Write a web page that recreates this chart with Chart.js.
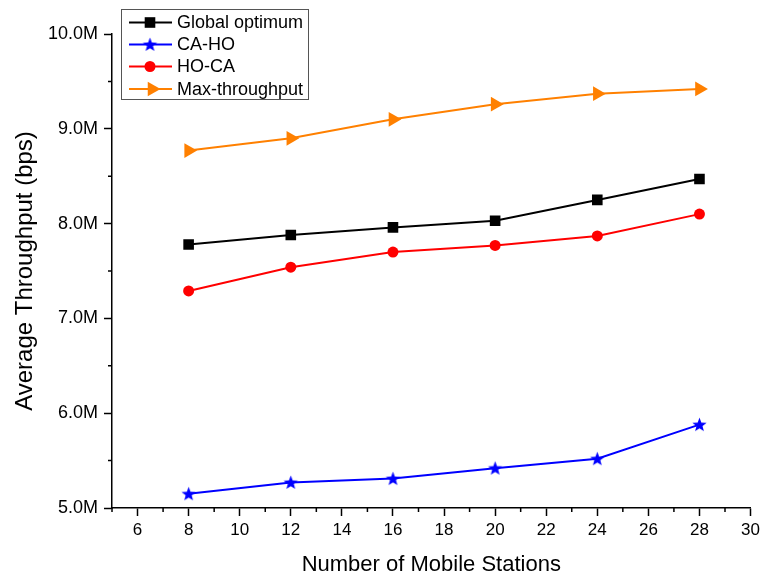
<!DOCTYPE html>
<html>
<head>
<meta charset="utf-8">
<script src="https://cdn.jsdelivr.net/npm/chart.js@4"></script>
<style>
  html, body { margin: 0; padding: 0; background: #fff; }
  #wrap { width: 764px; height: 579px; }
</style>
</head>
<body>
<div id="wrap"><canvas id="chart"></canvas></div>
<script>
// data (throughput in bps)
const stations = [8, 12, 16, 20, 24, 28];
const globalOptimum = [7.78e6, 7.88e6, 7.96e6, 8.03e6, 8.25e6, 8.47e6];
const caHo = [5.15e6, 5.27e6, 5.31e6, 5.42e6, 5.52e6, 5.88e6];
const hoCa = [7.29e6, 7.54e6, 7.70e6, 7.77e6, 7.87e6, 8.10e6];
const maxThroughput = [8.77e6, 8.90e6, 9.10e6, 9.26e6, 9.37e6, 9.42e6];

const seriesNames = ['Global optimum', 'CA-HO', 'HO-CA', 'Max-throughput'];

const xTicks = [6, 8, 10, 12, 14, 16, 18, 20, 22, 24, 26, 28, 30];
const xMinorTicks = [5, 7, 9, 11, 13, 15, 17, 19, 21, 23, 25, 27, 29];
const yTicks = [5e6, 6e6, 7e6, 8e6, 9e6, 10e6];
const yMinorTicks = [5.5e6, 6.5e6, 7.5e6, 8.5e6, 9.5e6];

const FONT = 'Liberation Sans, Arial, sans-serif';

// filled five point star, Chart.js only has the asterisk kind
function makeStar(color, r) {
    const c = document.createElement('canvas');
    const s = Math.ceil(r * 2 + 2);
    c.width = s; c.height = s;
    const g = c.getContext('2d');
    g.translate(s / 2, s / 2 + 0.5);
    g.beginPath();
    for (let i = 0; i < 10; i++) {
        const rad = i % 2 === 0 ? r : r * 0.42;
        const a = -Math.PI / 2 + i * Math.PI / 5;
        g.lineTo(Math.cos(a) * rad, Math.sin(a) * rad);
    }
    g.closePath();
    g.fillStyle = color;
    g.fill();
    return c;
}
const starImg = makeStar('#0000ff', 7.5);

function toPoints(values) {
    return stations.map((x, i) => ({ x: x, y: values[i] }));
}

function line(label, values, color, style, radius, rotation) {
    return {
        label: label,
        data: toPoints(values),
        borderColor: color,
        backgroundColor: color,
        borderWidth: 2,
        pointStyle: style,
        pointRadius: radius,
        pointHoverRadius: radius,
        pointRotation: rotation || 0,
        pointBorderWidth: 0,
        tension: 0
    };
}

// minor ticks on both axes
const minorTicks = {
    id: 'minorTicks',
    afterDraw(chart) {
        const ctx = chart.ctx;
        const x = chart.scales.x, y = chart.scales.y;
        const area = chart.chartArea;
        ctx.save();
        ctx.strokeStyle = '#000';
        ctx.lineWidth = 1.5;
        ctx.beginPath();
        xMinorTicks.forEach(v => {
            const px = x.getPixelForValue(v);
            ctx.moveTo(px, area.bottom);
            ctx.lineTo(px, area.bottom + 4);
        });
        yMinorTicks.forEach(v => {
            const py = y.getPixelForValue(v);
            ctx.moveTo(area.left, py);
            ctx.lineTo(area.left - 4, py);
        });
        ctx.stroke();
        ctx.restore();
    }
};

// boxed legend with line + marker samples, like the original
const boxLegend = {
    id: 'boxLegend',
    afterDraw(chart) {
        const ctx = chart.ctx;
        const rows = [22.5, 44.5, 66.5, 89];
        ctx.save();
        ctx.fillStyle = '#fff';
        ctx.fillRect(121.5, 9.5, 187, 90);
        ctx.strokeStyle = '#555';
        ctx.lineWidth = 1;
        ctx.strokeRect(121.5, 9.5, 187, 90);
        chart.data.datasets.forEach((ds, i) => {
            const yy = rows[i];
            ctx.strokeStyle = ds.borderColor;
            ctx.lineWidth = 2;
            ctx.beginPath();
            ctx.moveTo(129, yy);
            ctx.lineTo(172, yy);
            ctx.stroke();
            ctx.fillStyle = ds.backgroundColor;
            Chart.helpers.drawPoint(ctx, {
                pointStyle: ds.pointStyle,
                rotation: ds.pointRotation,
                borderWidth: 0,
                radius: ds.pointRadius
            }, i === 3 ? 152 : 150, yy);
            ctx.fillStyle = '#000';
            ctx.font = '18px ' + FONT;
            ctx.textBaseline = 'middle';
            ctx.fillText(ds.label, 177, yy + 1);
        });
        ctx.restore();
    }
};

const axisCommon = {
    type: 'linear',
    grid: {
        drawOnChartArea: false,
        drawTicks: true,
        tickLength: 8,
        tickWidth: 1.5,
        tickColor: '#000'
    },
    border: { display: true, color: '#000', width: 1.5 }
};

new Chart(document.getElementById('chart'), {
    type: 'line',
    data: {
        datasets: [
            line(seriesNames[0], globalOptimum, '#000000', 'rect', 7.5),
            line(seriesNames[1], caHo, '#0000ff', starImg, 7),
            line(seriesNames[2], hoCa, '#ff0000', 'circle', 5.5),
            line(seriesNames[3], maxThroughput, '#ff8000', 'triangle', 8.5, 90)
        ]
    },
    options: {
        responsive: true,
        maintainAspectRatio: false,
        animation: false,
        layout: { padding: { top: 34, right: 13, left: 0, bottom: 0 } },
        plugins: {
            legend: { display: false },
            tooltip: { enabled: false }
        },
        scales: {
            x: {
                ...axisCommon,
                position: 'bottom',
                min: 5,
                max: 30,
                afterBuildTicks: s => { s.ticks = xTicks.map(v => ({ value: v })); },
                afterFit: s => { s.height = 71; },
                ticks: {
                    color: '#000',
                    font: { family: FONT, size: 17 },
                    padding: 4,
                    maxRotation: 0,
                    autoSkip: false
                },
                title: {
                    display: true,
                    text: 'Number of Mobile Stations',
                    color: '#000',
                    font: { family: FONT, size: 22 },
                    padding: { bottom: 1 }
                }
            },
            y: {
                ...axisCommon,
                position: 'left',
                min: 5e6,
                max: 10e6,
                afterBuildTicks: s => { s.ticks = yTicks.map(v => ({ value: v })); },
                afterFit: s => { s.width = 112; },
                ticks: {
                    color: '#000',
                    font: { family: FONT, size: 18 },
                    padding: 6,
                    callback: v => (v / 1e6).toFixed(1) + 'M'
                },
                title: {
                    display: true,
                    text: 'Average Throughput (bps)',
                    color: '#000',
                    font: { family: FONT, size: 24 },
                    padding: { top: 11 }
                }
            }
        }
    },
    plugins: [minorTicks, boxLegend]
});
</script>
</body>
</html>
